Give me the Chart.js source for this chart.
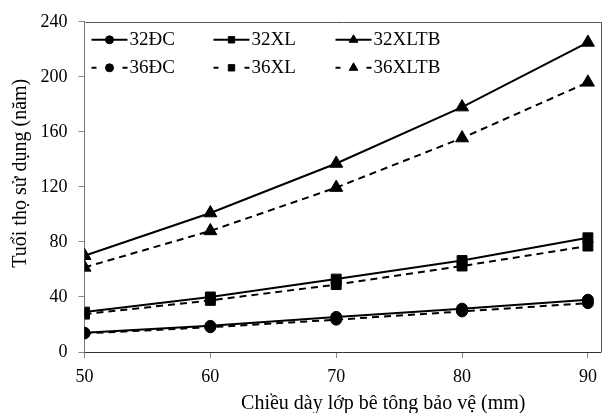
<!DOCTYPE html>
<html><head><meta charset="utf-8">
<script src="https://cdn.jsdelivr.net/npm/chart.js@4/dist/chart.umd.min.js"></script>
<style>html,body{margin:0;padding:0;background:#fff;}#wrap{width:609px;height:413px;}</style>
</head><body><div id="wrap"><canvas id="c" width="609" height="413"></canvas></div>
<script>
const thickness = [50, 60, 70, 80, 90];
const xTicks = [50, 60, 70, 80, 90];
const yTicks = [0, 40, 80, 120, 160, 200, 240];
const seriesNames = ['32ĐC', '32XL', '32XLTB', '36ĐC', '36XL', '36XLTB'];
const v32DC   = [14, 19, 25.5, 31.5, 38];
const v32XL   = [29, 40, 53, 66.5, 83];
const v32XLTB = [70, 101, 137, 178, 225];
const v36DC   = [13.5, 18, 23.5, 29.5, 35.5];
const v36XL   = [27.5, 37.5, 49, 62.5, 77];
const v36XLTB = [61.5, 88, 119.5, 155.5, 196];
const xTitle = 'Chiều dày lớp bê tông bảo vệ (mm)';
const yTitle = 'Tuổi thọ sử dụng (năm)';

const FONT = 'Liberation Serif';
const values = [v32DC, v32XL, v32XLTB, v36DC, v36XL, v36XLTB];
const styles = ['circle', 'rect', 'triangle', 'circle', 'rect', 'triangle'];
const radii = {circle: 5.5, rect: 7, triangle: 7.5};
const legendRadii = {circle: 4, rect: 4.5, triangle: 5};

const datasets = values.map((vals, i) => ({
  label: seriesNames[i],
  data: thickness.map((t, j) => ({x: t, y: vals[j]})),
  borderColor: '#000',
  backgroundColor: '#000',
  pointBackgroundColor: '#000',
  pointBorderColor: '#000',
  borderWidth: 2,
  borderDash: i >= 3 ? [7, 5] : [],
  pointStyle: styles[i],
  pointRadius: radii[styles[i]],
  pointBorderWidth: 1,
  tension: 0,
  fill: false
}));

const frame = {
  id: 'frame',
  beforeDatasetsDraw(chart) {
    const {ctx, chartArea: a} = chart;
    ctx.save();
    ctx.strokeStyle = '#555';
    ctx.lineWidth = 1;
    ctx.beginPath();
    ctx.moveTo(Math.round(a.left) + 0.5, Math.round(a.top) + 0.5);
    ctx.lineTo(Math.round(a.right) + 0.5, Math.round(a.top) + 0.5);
    ctx.lineTo(Math.round(a.right) + 0.5, Math.round(a.bottom) + 0.5);
    ctx.stroke();
    ctx.restore();
  }
};

const axisTitles = {
  id: 'axisTitles',
  afterDraw(chart) {
    const {ctx, chartArea: a} = chart;
    ctx.save();
    ctx.fillStyle = '#000';
    ctx.font = '20px "' + FONT + '"';
    ctx.textAlign = 'center';
    ctx.textBaseline = 'middle';
    ctx.fillText(xTitle, a.left + a.width * 0.579, 404);
    ctx.translate(21, a.top + a.height * 0.4586);
    ctx.rotate(-Math.PI / 2);
    ctx.fillText(yTitle, 0, 0);
    ctx.restore();
  }
};

const innerLegend = {
  id: 'innerLegend',
  afterDraw(chart) {
    const {ctx, chartArea: a} = chart;
    chart.data.datasets.forEach((ds, i) => {
      const col = i % 3, row = Math.floor(i / 3);
      const x0 = a.left + 7 + col * 122;
      const y = a.top + 18 + row * 28;
      const len = 36;
      ctx.save();
      ctx.strokeStyle = ds.borderColor;
      ctx.lineWidth = ds.borderWidth;
      ctx.setLineDash(ds.borderDash.length ? [5, 26] : []);
      ctx.beginPath();
      ctx.moveTo(x0, y);
      ctx.lineTo(x0 + len, y);
      ctx.stroke();
      ctx.setLineDash([]);
      ctx.fillStyle = '#000';
      ctx.strokeStyle = '#000';
      ctx.lineWidth = 1;
      Chart.helpers.drawPoint(ctx, {pointStyle: ds.pointStyle, radius: legendRadii[ds.pointStyle], borderWidth: 1, rotation: 0}, x0 + len / 2, y);
      ctx.fillStyle = '#000';
      ctx.font = '19px "' + FONT + '"';
      ctx.textBaseline = 'middle';
      ctx.textAlign = 'left';
      ctx.fillText(ds.label, x0 + len + 2, y);
      ctx.restore();
    });
  }
};

new Chart(document.getElementById('c'), {
  type: 'line',
  data: {datasets},
  options: {
    responsive: false,
    devicePixelRatio: 1,
    animation: false,
    layout: {padding: {top: 14, right: 6.5, left: 0, bottom: 0}},
    plugins: {legend: {display: false}, tooltip: {enabled: false}},
    scales: {
      x: {
        type: 'linear', min: 50, max: 91,
        afterBuildTicks: s => { s.ticks = xTicks.map(v => ({value: v})); },
        grid: {display: true, drawOnChartArea: false, drawTicks: true, tickLength: 6, color: '#888'},
        border: {display: true, color: '#333', width: 1},
        ticks: {font: {family: FONT, size: 18}, color: '#000', padding: 8, maxRotation: 0, autoSkip: false},
        title: {display: false},
        afterFit: s => { s.height = 61; }
      },
      y: {
        type: 'linear', min: 0, max: 240,
        afterBuildTicks: s => { s.ticks = yTicks.map(v => ({value: v})); },
        grid: {display: true, drawOnChartArea: false, drawTicks: true, tickLength: 6, color: '#888'},
        border: {display: true, color: '#777', width: 1},
        ticks: {font: {family: FONT, size: 18}, color: '#000', padding: 11, autoSkip: false},
        title: {display: false},
        afterFit: s => { s.width = 84.5; }
      }
    }
  },
  plugins: [frame, axisTitles, innerLegend]
});
</script></body></html>
